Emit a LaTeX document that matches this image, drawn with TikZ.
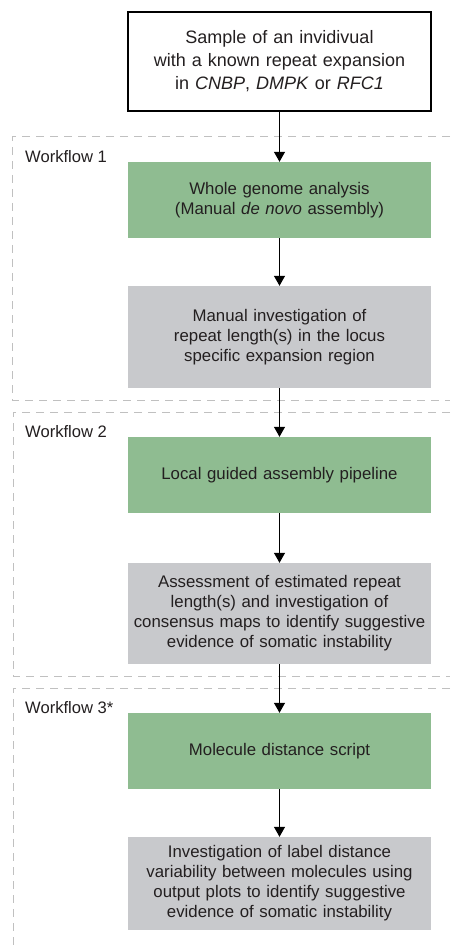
\documentclass[tikz,border=0pt]{standalone}
\usepackage{fontspec}
\setmainfont{Liberation Sans}
\usepackage{xcolor}
\usepackage{tikz}
\usetikzlibrary{arrows.meta,positioning,calc}

\definecolor{wfgreen}{RGB}{143,188,145}
\definecolor{wfgray}{RGB}{200,201,204}
\definecolor{wfframe}{RGB}{192,192,192}
\definecolor{wftext}{RGB}{35,31,32}

\tikzset{
    stepbox/.style={minimum width=303pt, text width=301pt, align=center,
        inner sep=0pt, text=wftext, font=\fontsize{16.8}{20}\selectfont},
    greenbox/.style={stepbox, fill=wfgreen, minimum height=76pt},
    graybox/.style={stepbox, fill=wfgray},
    inputbox/.style={stepbox, draw=black, line width=1.2pt,
        font=\fontsize{18}{23}\selectfont},
    frameline/.style={wfframe, line width=1pt, dash pattern=on 8pt off 6pt},
    wflabel/.style={right, inner sep=0pt, text=wftext, font=\fontsize{16.6}{20}\selectfont},
    flowarrow/.style={-{Triangle[width=11pt,length=10pt]}, line width=1.2pt, black}
}

\begin{document}
\begin{tikzpicture}[x=1pt, y=-1pt]
    \useasboundingbox (0, 0) rectangle (450, 949);

    % Workflow frames
    \draw[frameline] (450, 137) -- (12, 137) -- (12, 400) -- (450, 400);
    \draw[frameline] (450, 412) -- (13, 412) -- (13, 676) -- (450, 676);
    \draw[frameline] (450, 688) -- (13, 688) -- (13, 949);

    % Workflow labels
    \node[wflabel] (wf1) at (25, 157) {Workflow 1};
    \node[wflabel] (wf2) at (25, 432) {Workflow 2};
    \node[wflabel] (wf3) at (25, 708) {Workflow 3*};

    % Input sample
    \node[inputbox, minimum height=99pt] (sample) at (279.5, 61.5)
        {Sample of an invidivual\\ with a known repeat expansion\\ in \textit{CNBP}, \textit{DMPK} or \textit{RFC1}};

    % Workflow 1
    \node[greenbox] (wgs) at (279.5, 200)
        {Whole genome analysis\\ (Manual \textit{de novo} assembly)};
    \node[graybox, minimum height=102pt] (manual) at (279.5, 337)
        {Manual investigation of\\ repeat length(s) in the locus\\ specific expansion region};

    % Workflow 2
    \node[greenbox] (local) at (279.5, 475)
        {Local guided assembly pipeline};
    \node[graybox, minimum height=101pt] (assess) at (279.5, 613.5)
        {Assessment of estimated repeat\\ length(s) and investigation of\\ consensus maps to identify suggestive\\ evidence of somatic instability};

    % Workflow 3
    \node[greenbox] (script) at (279.5, 751)
        {Molecule distance script};
    \node[graybox, minimum height=93pt] (variab) at (279.5, 883.5)
        {Investigation of label distance\\ variability between molecules using\\ output plots to identify suggestive\\ evidence of somatic instability};

    % Arrows
    \draw[flowarrow] (sample) -- (wgs);
    \draw[flowarrow] (wgs) -- (manual);
    \draw[flowarrow] (manual) -- (local);
    \draw[flowarrow] (local) -- (assess);
    \draw[flowarrow] (assess) -- (script);
    \draw[flowarrow] (script) -- (variab);
\end{tikzpicture}
\end{document}
